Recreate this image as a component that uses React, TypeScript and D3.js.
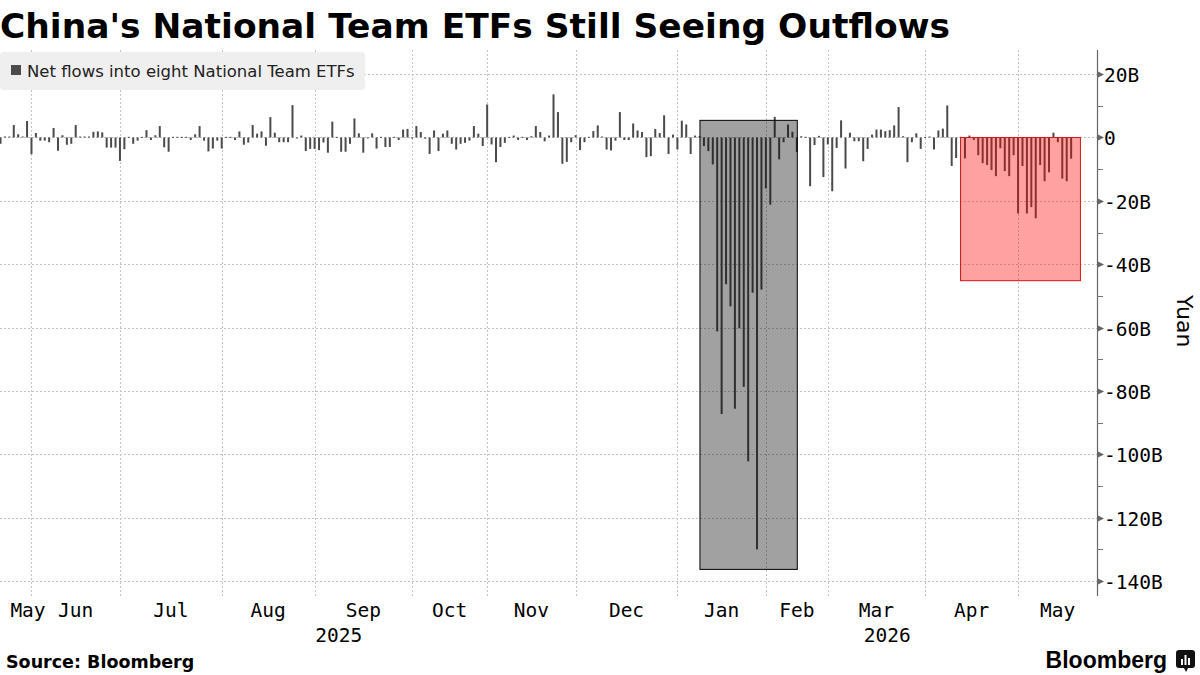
import React, { useEffect, useRef } from 'react';
import * as d3 from 'd3';

// Daily net flows (billion yuan), one entry per trading day, grouped by month
const may2025 = [-2, 0.3, 0.3, 3.9, 1, 0.3, 5.2];
const jun2025 = [-5.3, 1.4, -1, -1, -1.5, 3, -4.2, 0.7, -2.3, -2, 3.9, 0.3, 0.3, 0.3, 1.8, 1.9, 1.6, -3.2, -3.2, -3.2];
const jul2025 = [-7.4, -3.7, 0.2, -2, -1, 0.2, 2.3, -0.8, 0.7, 3.6, -3.1, -4.5, 0.2, 0.2, 0.2, 0.2, -0.8, 1, 3.6, -1, -4.4, -3.5, -1];
const aug2025 = [-3.5, 0.2, 0.2, -0.8, 1.9, -2.3, -1.6, 3.9, 1.2, 1.9, -2.6, 6.4, 1.5, -1.5, -1.5, -1.5, 10.2, -0.2, 0.6, -4.3, -3.6];
const sep2025 = [-3.6, -4, -1.6, -4.8, 5, 0.2, -4.5, -4.5, -2, 6, 1.3, -4.8, -0.2, 1.3, -3.5, 0.2, -3, -3, 0.2, -0.8, 2.5, 2.7];
const oct2025 = [-0.2, 3.6, 1.7, -0.4, -5.2, 2.2, -4.3, 1.2, 2.2, -2, -3.8, -2, -1.7, -1, 3.6, 1.2, -2.7];
const nov2025 = [10.4, -2.2, -7.8, -3, -1.7, 0.2, 0.6, -0.8, 0.2, -0.8, 0.4, 3.6, 1.7, -1.2, 0.6, 13.6, 8, -8.3, -7.7, -1.5];
const dec2025 = [0.7, -4, -1.5, 0.2, 2, 3.8, 0.3, -3.8, -4.1, -1, 8, -0.8, -0.8, 4.4, 2.2, 1.7, -6.2, -5.9, 2.7, 1.4, 7, -5.2, 0.9];
const jan2026 = [-3.8, 5.3, 4.1, -5.2, 0.6, 0.4, -2.7, -4.3, -8.5, -61.2, -87.3, -46.3, -53.3, -85.6, -60.2, -78.7, -102.2, -49, -130, -48];
const feb2026 = [-16.1, -21.2, 6.5, -6.9, -1.5, 4.1, 1.8, -4.6, 0.4, 0.2, -15.4, -2.4, 0.5, -12.5];
const mar2026 = [-2.2, -17, -3.3, 5.4, -9.8, 1.5, -1.2, -1.2, -7.5, -3.6, 0.9, 2.5, 2.5, 2, 2.3, 3.8, 9.6, 0.4, -7.8, -1.5, 1.3, -3.6];
const apr2026 = [0.2, 0.3, -3.8, 2.2, 2.8, 10.1, -9, -6.5, 0.2, -6.6, 0.6, -0.8, -5.6, -8.1, -8.7, -10.3, -12.2, -3.4, -10.6, -12.2, -5.6];
const may2026 = [-24, -9, -24, -22, -25.5, -8.7, -13.8, -11, 1.5, -1.5, -13, -13.8, -6.7];

const months = [
  { label: 'May', year: '2025', flows: may2025 },
  { label: 'Jun', year: '2025', flows: jun2025 },
  { label: 'Jul', year: '2025', flows: jul2025 },
  { label: 'Aug', year: '2025', flows: aug2025 },
  { label: 'Sep', year: '2025', flows: sep2025 },
  { label: 'Oct', year: '2025', flows: oct2025 },
  { label: 'Nov', year: '2025', flows: nov2025 },
  { label: 'Dec', year: '2025', flows: dec2025 },
  { label: 'Jan', year: '2026', flows: jan2026 },
  { label: 'Feb', year: '2026', flows: feb2026 },
  { label: 'Mar', year: '2026', flows: mar2026 },
  { label: 'Apr', year: '2026', flows: apr2026 },
  { label: 'May', year: '2026', flows: may2026 },
];

const yTicks = [20, 0, -20, -40, -60, -80, -100, -120, -140];
const yMinorTicks = [10, -10, -30, -50, -70, -90, -110, -130];

// shaded annotation boxes, in trading-day index / billion yuan
const januaryBox = { from: 158.1, to: 180.1, top: 5.4, bottom: -136.3 };
const aprilBox = { from: 217, to: 244.1, top: 0, bottom: -45.2 };

const MONO = '"DejaVu Sans Mono", monospace';
const SANS = '"DejaVu Sans", sans-serif';

const App = () => {
  const ref = useRef<SVGSVGElement>(null);

  useEffect(() => {
    const svg = d3.select(ref.current);
    svg.selectAll('*').remove();

    const flows: number[] = months.flatMap((m) => m.flows);
    const starts: number[] = [];
    let n = 0;
    months.forEach((m) => {
      starts.push(n);
      n += m.flows.length;
    });
    const slots = 247.8;

    const plotTop = 50;
    const plotBottom = 596;
    const plotRight = 1097;

    const x = d3.scaleLinear().domain([0, slots]).range([0.5, plotRight - 0.2]);
    const y = d3.scaleLinear().domain([-144.7, 27.6]).range([plotBottom, plotTop]);

    // title
    svg
      .append('text')
      .attr('x', 0)
      .attr('y', 38)
      .attr('font-family', SANS)
      .attr('font-weight', 'bold')
      .attr('font-size', 33)
      .attr('textLength', 950)
      .attr('lengthAdjust', 'spacingAndGlyphs')
      .attr('fill', '#000')
      .text("China's National Team ETFs Still Seeing Outflows");

    // grid
    const grid = svg.append('g').attr('stroke', '#c4c4c4').attr('stroke-width', 1).attr('stroke-dasharray', '2,2');
    yTicks.forEach((t) => {
      grid
        .append('line')
        .attr('x1', 0)
        .attr('x2', plotRight)
        .attr('y1', Math.round(y(t)) + 0.5)
        .attr('y2', Math.round(y(t)) + 0.5);
    });
    starts.slice(1).forEach((s) => {
      grid
        .append('line')
        .attr('x1', Math.round(x(s)) + 0.5)
        .attr('x2', Math.round(x(s)) + 0.5)
        .attr('y1', plotTop)
        .attr('y2', plotBottom);
    });

    // bars
    svg
      .append('g')
      .selectAll('rect')
      .data(flows)
      .join('rect')
      .attr('x', (_d, i) => x(i) - 1)
      .attr('width', 2)
      .attr('y', (d) => y(Math.max(0, d)))
      .attr('height', (d) => Math.max(1, Math.abs(y(d) - y(0))))
      .attr('fill', '#4b4b4b');

    // annotation boxes drawn over the bars
    svg
      .append('rect')
      .attr('x', x(januaryBox.from))
      .attr('y', y(januaryBox.top))
      .attr('width', x(januaryBox.to) - x(januaryBox.from))
      .attr('height', y(januaryBox.bottom) - y(januaryBox.top))
      .attr('fill', 'rgba(0,0,0,0.37)')
      .attr('stroke', '#000')
      .attr('stroke-width', 1);
    svg
      .append('rect')
      .attr('x', x(aprilBox.from))
      .attr('y', y(aprilBox.top))
      .attr('width', x(aprilBox.to) - x(aprilBox.from))
      .attr('height', y(aprilBox.bottom) - y(aprilBox.top))
      .attr('fill', 'rgba(255,0,0,0.37)')
      .attr('stroke', '#d01818')
      .attr('stroke-width', 1);

    // legend
    const legend = svg.append('g');
    legend.append('rect').attr('x', 0).attr('y', 52).attr('width', 365).attr('height', 38).attr('rx', 4).attr('fill', '#efefef');
    legend.append('rect').attr('x', 11).attr('y', 65).attr('width', 10).attr('height', 10).attr('fill', '#4b4b4b');
    legend
      .append('text')
      .attr('x', 27)
      .attr('y', 77)
      .attr('font-family', SANS)
      .attr('font-size', 16.5)
      .attr('fill', '#222')
      .text('Net flows into eight National Team ETFs');

    // right axis
    const axis = svg.append('g');
    axis
      .append('line')
      .attr('x1', plotRight + 0.5)
      .attr('x2', plotRight + 0.5)
      .attr('y1', plotTop)
      .attr('y2', plotBottom)
      .attr('stroke', '#666')
      .attr('stroke-width', 1.2);
    yMinorTicks.forEach((t) => {
      axis
        .append('line')
        .attr('x1', plotRight)
        .attr('x2', plotRight + 6)
        .attr('y1', Math.round(y(t)) + 0.5)
        .attr('y2', Math.round(y(t)) + 0.5)
        .attr('stroke', '#777');
    });
    yTicks.forEach((t) => {
      const ty = Math.round(y(t)) + 0.5;
      axis
        .append('path')
        .attr('d', `M${plotRight},${ty - 3.5}L${plotRight + 7},${ty}L${plotRight},${ty + 3.5}Z`)
        .attr('fill', '#666');
      axis
        .append('text')
        .attr('x', plotRight + 7)
        .attr('y', ty)
        .attr('dy', '0.36em')
        .attr('font-family', MONO)
        .attr('font-size', 19.5)
        .attr('fill', '#000')
        .text(t === 0 ? '0' : `${t}B`);
    });
    svg
      .append('text')
      .attr('transform', `translate(1177,${y(-58)}) rotate(90)`)
      .attr('text-anchor', 'middle')
      .attr('font-family', SANS)
      .attr('font-size', 22)
      .attr('fill', '#000')
      .text('Yuan');

    // month labels centred in each month's span
    months.forEach((m, i) => {
      const a = x(starts[i]);
      const b = i + 1 < months.length ? x(starts[i + 1]) : plotRight;
      const cx = Math.max((a + b) / 2, 28);
      svg
        .append('text')
        .attr('x', cx)
        .attr('y', 617)
        .attr('text-anchor', 'middle')
        .attr('font-family', MONO)
        .attr('font-size', 19.5)
        .attr('fill', '#000')
        .text(m.label);
    });

    // year labels centred over each year's span
    const years = Array.from(new Set(months.map((m) => m.year)));
    years.forEach((yr) => {
      const idx = months.map((m, i) => (m.year === yr ? i : -1)).filter((i) => i >= 0);
      const first = idx[0];
      const last = idx[idx.length - 1];
      const a = first === 0 ? 0 : x(starts[first]);
      const b = last + 1 < months.length ? x(starts[last + 1]) : plotRight;
      svg
        .append('text')
        .attr('x', (a + b) / 2)
        .attr('y', 642)
        .attr('text-anchor', 'middle')
        .attr('font-family', MONO)
        .attr('font-size', 19.5)
        .attr('fill', '#000')
        .text(yr);
    });

    // footer
    svg
      .append('text')
      .attr('x', 6)
      .attr('y', 668)
      .attr('font-family', SANS)
      .attr('font-weight', 'bold')
      .attr('font-size', 17.5)
      .attr('fill', '#000')
      .text('Source: Bloomberg');
    svg
      .append('text')
      .attr('x', 1167)
      .attr('y', 668)
      .attr('text-anchor', 'end')
      .attr('font-family', '"Liberation Sans", Arial, sans-serif')
      .attr('font-weight', 'bold')
      .attr('font-size', 23)
      .attr('fill', '#000')
      .text('Bloomberg');
    const logo = svg.append('g').attr('transform', 'translate(1176,650)');
    logo.append('rect').attr('width', 19).attr('height', 18).attr('rx', 3).attr('fill', '#111');
    logo.append('path').attr('d', 'M8,18L10,22L12,18Z').attr('fill', '#111');
    [
      [5, 9, 2, 6],
      [8.5, 5, 2, 10],
      [12, 8, 2, 7],
    ].forEach(([bx, by, bw, bh]) => {
      logo.append('rect').attr('x', bx).attr('y', by).attr('width', bw).attr('height', bh).attr('fill', '#fff');
    });
  }, []);

  return (
    <svg
      ref={ref}
      width={1200}
      height={675}
      style={{ position: 'absolute', left: 0, top: 0, background: '#fff' }}
    />
  );
};

export default App;
